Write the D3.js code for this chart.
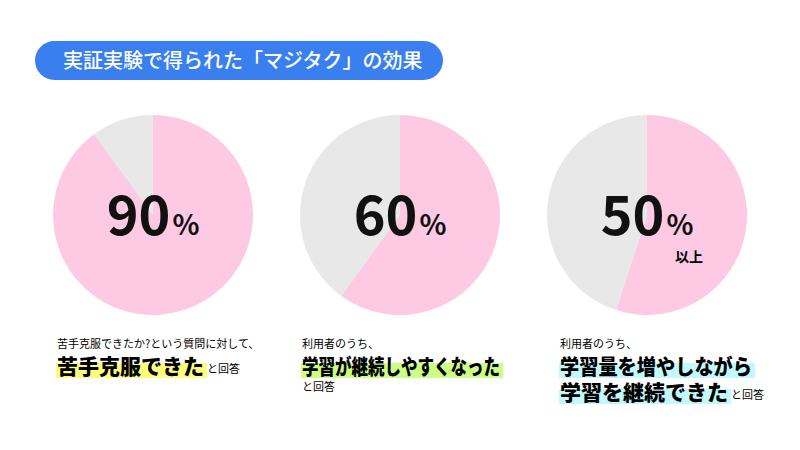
<!DOCTYPE html>
<html><head><meta charset="utf-8">
<script src="https://cdn.jsdelivr.net/npm/d3@7"></script>
<style>body{margin:0;background:#fff}text{font-family:"Noto Sans CJK JP",sans-serif}</style>
</head><body><svg width="800" height="450"></svg>
<script>
var values = [90, 60, 55];
var labels = ["90", "60", "50"];
var suffix = ["", "", "以上"];
var captions = ["苦手克服できたか?という質問に対して、", "利用者のうち、", "利用者のうち、"];
var headlines = [["苦手克服できた"], ["学習が継続しやすくなった"], ["学習量を増やしながら", "学習を継続できた"]];
var highlight = ["#fdfd7c", "#ccfd84", "#c2f9ff"];

var svg = d3.select("svg");
svg.append("rect").attr("x", 35).attr("y", 41).attr("width", 408).attr("height", 39).attr("rx", 19.5).attr("fill", "#3a7fef");
svg.append("text").attr("x", 63).attr("y", 68).attr("fill", "#fff").attr("font-size", 20).attr("font-weight", 500)
  .text("実証実験で得られた「マジタク」の効果");

var cx = d3.scalePoint().domain(d3.range(values.length)).range([153, 647]);
var pie = d3.pie().sort(null);
var arc = d3.arc().innerRadius(0).outerRadius(100);
var blockOffset = [96, 98, 87];
var maxW = [148, 198, 192];

values.forEach(function(v, i) {
  var g = svg.append("g").attr("transform", "translate(" + cx(i) + ",215)");
  g.selectAll("path").data(pie([v, 100 - v])).join("path")
    .attr("d", arc).attr("fill", function(d, j) { return j == 0 ? "#fdc9e3" : "#e8e8e8"; });
  var t = g.append("text").attr("text-anchor", "middle").attr("y", 20).attr("fill", "#111");
  t.append("tspan").attr("font-size", 54).attr("font-weight", 700).text(labels[i]);
  t.append("tspan").attr("font-size", 28).attr("font-weight", 700).attr("dx", 2).text("%");
  if (suffix[i]) g.append("text").attr("x", 42).attr("y", 47).attr("font-size", 14).attr("font-weight", 700).attr("text-anchor", "middle").text(suffix[i]);

  var x0 = cx(i) - blockOffset[i];
  var b = svg.append("g");
  b.append("text").attr("x", x0).attr("y", 348).attr("font-size", 11).text(captions[i]);
  headlines[i].forEach(function(h, k) {
    var y = 374 + k * 26;
    var ht = b.append("text").attr("x", x0).attr("y", y).attr("font-size", 21).attr("font-weight", 900).text(h);
    var w = ht.node().getComputedTextLength();
    if (w > maxW[i]) { ht.attr("textLength", maxW[i]).attr("lengthAdjust", "spacingAndGlyphs"); w = maxW[i]; }
    b.insert("rect", "text").attr("x", x0 - 1).attr("y", y - 11).attr("width", w + 4).attr("height", 15).attr("fill", highlight[i]);
    var last = k == headlines[i].length - 1;
    if (last && i != 1) b.append("text").attr("x", x0 + w + 3).attr("y", y - 1).attr("font-size", 11).text("と回答");
  });
  if (i == 1) b.append("text").attr("x", x0).attr("y", 391).attr("font-size", 11).text("と回答");
});
</script></body></html>
